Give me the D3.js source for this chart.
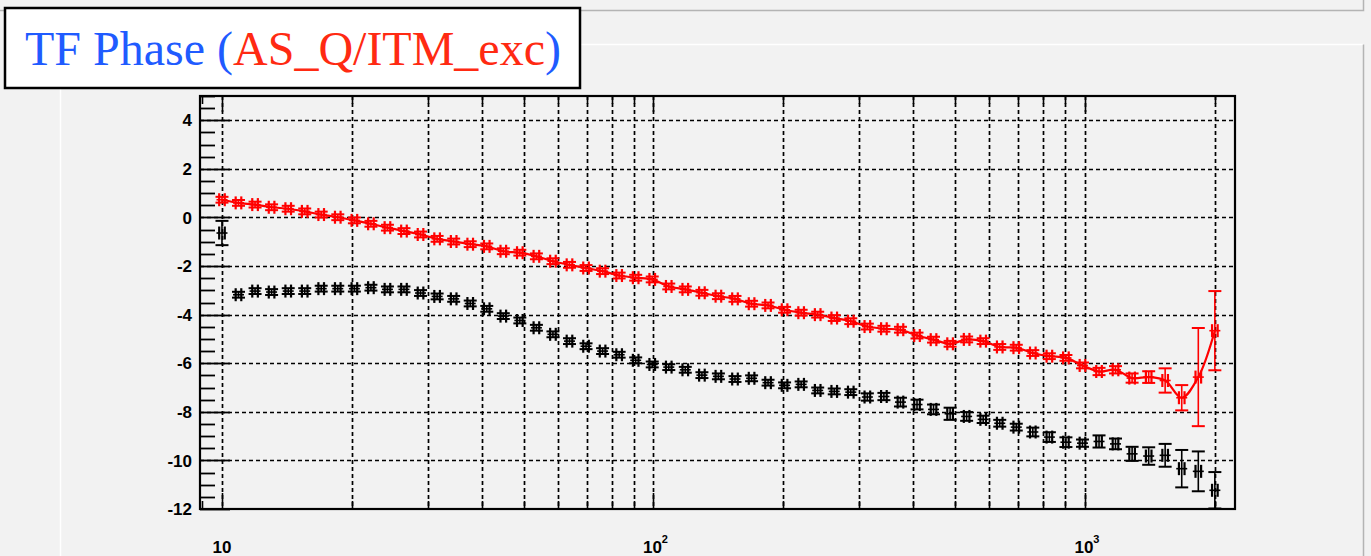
<!DOCTYPE html>
<html>
<head>
<meta charset="utf-8">
<script src="https://cdn.jsdelivr.net/npm/d3@7"></script>
<style>
  html, body { margin: 0; padding: 0; background: #f2f2f2; }
  svg { display: block; }
</style>
</head>
<body>
<svg id="chart" width="1371" height="556"></svg>
<script>
// frequencies (Hz), log spaced sweep
const freqs = [10, 10.92, 11.93, 13.03, 14.24, 15.55, 16.98, 18.55, 20.27, 22.14,
  24.18, 26.41, 28.85, 31.52, 34.43, 37.61, 41.08, 44.87, 49.01, 53.54,
  58.48, 63.88, 69.78, 76.22, 83.26, 90.94, 99.34, 108.5, 118.5, 129.5,
  141.4, 154.5, 168.8, 184.3, 201.3, 219.9, 240.2, 262.4, 286.6, 313.1,
  342.0, 373.6, 408.1, 445.7, 486.9, 531.8, 580.9, 634.6, 693.1, 757.1,
  827.0, 903.4, 986.8, 1078, 1177, 1286, 1405, 1534, 1676, 1831, 2000];

// red series (with line)
const redPhase = [0.73, 0.60, 0.53, 0.42, 0.36, 0.25, 0.12, 0.01, -0.12, -0.26,
  -0.42, -0.56, -0.70, -0.88, -0.99, -1.10, -1.19, -1.39, -1.45, -1.60,
  -1.80, -1.95, -2.08, -2.21, -2.39, -2.48, -2.55, -2.84, -2.96, -3.10,
  -3.24, -3.35, -3.55, -3.62, -3.80, -3.92, -4.00, -4.14, -4.27, -4.49,
  -4.58, -4.62, -4.86, -5.03, -5.20, -5.02, -5.09, -5.33, -5.36, -5.58,
  -5.71, -5.78, -6.09, -6.34, -6.27, -6.61, -6.57, -6.71, -7.42, -6.57, -4.66];
const redErr = [0.12, 0.12, 0.12, 0.12, 0.12, 0.12, 0.12, 0.12, 0.12, 0.12,
  0.12, 0.12, 0.12, 0.12, 0.12, 0.12, 0.12, 0.12, 0.12, 0.12,
  0.12, 0.12, 0.12, 0.12, 0.12, 0.12, 0.12, 0.12, 0.12, 0.12,
  0.12, 0.12, 0.12, 0.12, 0.12, 0.12, 0.12, 0.12, 0.12, 0.12,
  0.12, 0.12, 0.12, 0.12, 0.12, 0.12, 0.12, 0.12, 0.12, 0.12,
  0.12, 0.12, 0.12, 0.15, 0.15, 0.19, 0.24, 0.50, 0.52, 2.02, 1.63];

// black series (markers only)
const blackPhase = [-0.64, -3.18, -3.03, -3.07, -3.03, -3.03, -2.93, -2.93, -2.93, -2.89,
  -2.96, -2.96, -3.11, -3.25, -3.35, -3.54, -3.76, -4.06, -4.24, -4.54,
  -4.81, -5.09, -5.30, -5.50, -5.65, -5.88, -6.05, -6.16, -6.27, -6.49,
  -6.54, -6.65, -6.62, -6.80, -6.91, -6.87, -7.12, -7.16, -7.19, -7.39,
  -7.37, -7.60, -7.70, -7.90, -8.08, -8.19, -8.31, -8.47, -8.63, -8.83,
  -9.04, -9.25, -9.29, -9.22, -9.32, -9.73, -9.82, -9.79, -10.34, -10.45, -11.23];
const blackErr = [0.50, 0.12, 0.12, 0.12, 0.12, 0.12, 0.12, 0.12, 0.12, 0.12,
  0.12, 0.12, 0.12, 0.12, 0.12, 0.12, 0.12, 0.12, 0.12, 0.12,
  0.12, 0.12, 0.12, 0.12, 0.12, 0.12, 0.12, 0.12, 0.12, 0.12,
  0.12, 0.12, 0.12, 0.12, 0.12, 0.12, 0.12, 0.12, 0.12, 0.15,
  0.15, 0.18, 0.20, 0.20, 0.25, 0.18, 0.15, 0.14, 0.14, 0.18,
  0.20, 0.20, 0.15, 0.25, 0.22, 0.29, 0.36, 0.47, 0.77, 0.82, 0.75];

const yTicks = [4, 2, 0, -2, -4, -6, -8, -10, -12];
const xLabels = [{ v: 10, base: "10", exp: "" }, { v: 100, base: "10", exp: "2" }, { v: 1000, base: "10", exp: "3" }];
const titleParts = [
  { t: "TF Phase (", c: "#1f5bff" },
  { t: "AS_Q/ITM_exc", c: "#ff2a12" },
  { t: ")", c: "#1f5bff" }
];

const svg = d3.select("#chart");
const W = 1371, H = 556;
const plot = { left: 200, right: 1235, top: 96, bottom: 509 };

// canvas panels
svg.append("rect").attr("width", W).attr("height", H).attr("fill", "#f2f2f2");
svg.append("path").attr("d", `M0,10.5H1363.5V0`).attr("fill", "none").attr("stroke", "#b4b4b4").attr("stroke-width", 1.5);
svg.append("path").attr("d", `M60.5,556V44.5H1363.5`).attr("fill", "none").attr("stroke", "#ffffff").attr("stroke-width", 1.5);
svg.append("path").attr("d", `M1363.5,44.5V556`).attr("fill", "none").attr("stroke", "#b4b4b4").attr("stroke-width", 1.5);

const x = d3.scaleLog().domain([8.893, 2227]).range([plot.left, plot.right]);
const y = d3.scaleLinear().domain([-12, 5]).range([plot.bottom, plot.top]);

const g = svg.append("g");

// grid lines
const xGrid = [];
[10, 100, 1000].forEach(d => { for (let k = 1; k <= 9; k++) { const v = d * k; if (v >= 10 && v <= 2000) xGrid.push(v); } });
g.append("g").selectAll("line").data(xGrid).join("line")
  .attr("x1", d => Math.round(x(d)) + 0.5).attr("x2", d => Math.round(x(d)) + 0.5)
  .attr("y1", plot.top).attr("y2", plot.bottom)
  .attr("stroke", "#000").attr("stroke-width", 1.7).attr("stroke-dasharray", "4,3");
g.append("g").selectAll("line").data(yTicks.filter(d => d > -12)).join("line")
  .attr("x1", plot.left).attr("x2", plot.right)
  .attr("y1", d => Math.round(y(d)) + 0.5).attr("y2", d => Math.round(y(d)) + 0.5)
  .attr("stroke", "#000").attr("stroke-width", 1.7).attr("stroke-dasharray", "4,3");

// y ticks (inside, major + minor)
const yMinor = d3.range(-12, 5.01, 0.5);
g.append("g").selectAll("line").data(yMinor).join("line")
  .attr("x1", plot.left).attr("x2", d => plot.left + (d % 2 === 0 ? 30 : 15))
  .attr("y1", d => Math.round(y(d)) + 0.5).attr("y2", d => Math.round(y(d)) + 0.5)
  .attr("stroke", "#000").attr("stroke-width", 1.8);

// x ticks top and bottom
const xTickVals = [9].concat(xGrid);
g.append("g").selectAll("line").data(xTickVals).join("line")
  .attr("x1", d => Math.round(x(d)) + 0.5).attr("x2", d => Math.round(x(d)) + 0.5)
  .attr("y1", plot.bottom).attr("y2", d => plot.bottom - ([10, 100, 1000].includes(d) ? 16 : 8))
  .attr("stroke", "#000").attr("stroke-width", 1.6);
g.append("g").selectAll("line").data(xTickVals).join("line")
  .attr("x1", d => Math.round(x(d)) + 0.5).attr("x2", d => Math.round(x(d)) + 0.5)
  .attr("y1", plot.top).attr("y2", d => plot.top + ([10, 100, 1000].includes(d) ? 16 : 8))
  .attr("stroke", "#000").attr("stroke-width", 1.6);

// y labels
g.append("g").selectAll("text").data(yTicks).join("text")
  .attr("x", 192).attr("y", d => y(d)).attr("dy", "0.36em")
  .attr("text-anchor", "end")
  .attr("font-family", "Liberation Sans, Arial, sans-serif").attr("font-weight", "bold").attr("font-size", 17)
  .text(d => d);

// x labels with superscript
const xl = g.append("g").selectAll("text").data(xLabels).join("text")
  .attr("x", d => x(d.v) + (d.exp ? 2 : 0)).attr("y", 553)
  .attr("text-anchor", "middle")
  .attr("font-family", "Liberation Sans, Arial, sans-serif").attr("font-weight", "bold").attr("font-size", 17);
xl.append("tspan").text(d => d.base);
xl.append("tspan").attr("dy", -10).attr("font-size", 11).text(d => d.exp);

// clip for data
svg.append("clipPath").attr("id", "clip").append("rect")
  .attr("x", plot.left).attr("y", plot.top).attr("width", plot.right - plot.left).attr("height", plot.bottom - plot.top);

function drawPoints(phase, err, color) {
  const pts = freqs.map((f, i) => ({ f, v: phase[i], e: err[i] }));
  const grp = svg.append("g").attr("clip-path", "url(#clip)")
    .attr("stroke", color).attr("fill", "none");
  const p = grp.selectAll("g").data(pts).join("g")
    .attr("transform", d => `translate(${x(d.f)},${y(d.v)})`);
  // vertical error bar
  p.append("line").attr("x1", 0).attr("x2", 0)
    .attr("y1", d => y(d.v + d.e) - y(d.v)).attr("y2", d => y(d.v - d.e) - y(d.v))
    .attr("stroke-width", 1.6);
  // caps
  p.append("line").attr("x1", -6.5).attr("x2", 6.5)
    .attr("y1", d => y(d.v + d.e) - y(d.v)).attr("y2", d => y(d.v + d.e) - y(d.v))
    .attr("stroke-width", 2);
  p.append("line").attr("x1", -6.5).attr("x2", 6.5)
    .attr("y1", d => y(d.v - d.e) - y(d.v)).attr("y2", d => y(d.v - d.e) - y(d.v))
    .attr("stroke-width", 2);
  // x error caps
  p.append("line").attr("x1", -2.8).attr("x2", -2.8).attr("y1", -6.5).attr("y2", 6.5).attr("stroke-width", 2.2);
  p.append("line").attr("x1", 2.8).attr("x2", 2.8).attr("y1", -6.5).attr("y2", 6.5).attr("stroke-width", 2.2);
  p.append("line").attr("x1", -5.5).attr("x2", 5.5).attr("y1", 0).attr("y2", 0).attr("stroke-width", 1.6);
  return pts;
}

// red line (smooth through points)
const redPts = freqs.map((f, i) => ({ f, v: redPhase[i] }));
svg.append("path").datum(redPts).attr("clip-path", "url(#clip)")
  .attr("fill", "none").attr("stroke", "#ff0000").attr("stroke-width", 2.2)
  .attr("d", d3.line().x(d => x(d.f)).y(d => y(d.v)).curve(d3.curveCatmullRom));

drawPoints(blackPhase, blackErr, "#000000");
drawPoints(redPhase, redErr, "#ff0000");

// frame
svg.append("rect").attr("x", plot.left).attr("y", plot.top)
  .attr("width", plot.right - plot.left).attr("height", plot.bottom - plot.top)
  .attr("fill", "none").attr("stroke", "#000").attr("stroke-width", 2.2);

// title box
svg.append("rect").attr("x", 5).attr("y", 8).attr("width", 575).attr("height", 80)
  .attr("fill", "#ffffff").attr("stroke", "#000").attr("stroke-width", 2.5);
const title = svg.append("text").attr("x", 293).attr("y", 65).attr("text-anchor", "middle")
  .attr("font-family", "Liberation Serif, Times New Roman, serif").attr("font-size", 48);
title.selectAll("tspan").data(titleParts).join("tspan").attr("fill", d => d.c).text(d => d.t);
</script>
</body>
</html>
